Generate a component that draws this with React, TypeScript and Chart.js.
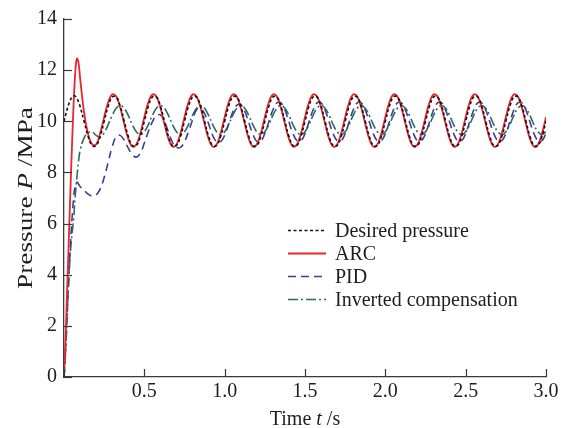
import React, { useEffect, useRef } from 'react';
import { Chart, registerables } from 'chart.js';

Chart.register(...registerables);

// Time axis (s)
const TIME = [
  0, 0.01, 0.02, 0.03, 0.04, 0.05, 0.06, 0.07, 0.08, 0.09, 0.1,
  0.125, 0.15, 0.175, 0.2, 0.225,
  0.25, 0.275, 0.3, 0.325, 0.35, 0.375, 0.4, 0.425, 0.45, 0.475,
  0.5, 0.525, 0.55, 0.575, 0.6, 0.625, 0.65, 0.675, 0.7, 0.725,
  0.75, 0.775, 0.8, 0.825, 0.85, 0.875, 0.9, 0.925, 0.95, 0.975,
  1.0, 1.025, 1.05, 1.075, 1.1, 1.125, 1.15, 1.175, 1.2, 1.225,
  1.25, 1.275, 1.3, 1.325, 1.35, 1.375, 1.4, 1.425, 1.45, 1.475,
  1.5, 1.525, 1.55, 1.575, 1.6, 1.625, 1.65, 1.675, 1.7, 1.725,
  1.75, 1.775, 1.8, 1.825, 1.85, 1.875, 1.9, 1.925, 1.95, 1.975,
  2.0, 2.025, 2.05, 2.075, 2.1, 2.125, 2.15, 2.175, 2.2, 2.225,
  2.25, 2.275, 2.3, 2.325, 2.35, 2.375, 2.4, 2.425, 2.45, 2.475,
  2.5, 2.525, 2.55, 2.575, 2.6, 2.625, 2.65, 2.675, 2.7, 2.725,
  2.75, 2.775, 2.8, 2.825, 2.85, 2.875, 2.9, 2.925, 2.95, 2.975,
  3.0,
];

// Desired pressure (MPa)
const DESIRED = [
  10, 10.25, 10.48, 10.68, 10.84, 10.95, 11.0, 10.98, 10.9, 10.77, 10.59,
  10, 9.41, 9.05, 9.05, 9.41,
  10, 10.59, 10.95, 10.95, 10.59, 10, 9.41, 9.05, 9.05, 9.41,
  10, 10.59, 10.95, 10.95, 10.59, 10, 9.41, 9.05, 9.05, 9.41,
  10, 10.59, 10.95, 10.95, 10.59, 10, 9.41, 9.05, 9.05, 9.41,
  10, 10.59, 10.95, 10.95, 10.59, 10, 9.41, 9.05, 9.05, 9.41,
  10, 10.59, 10.95, 10.95, 10.59, 10, 9.41, 9.05, 9.05, 9.41,
  10, 10.59, 10.95, 10.95, 10.59, 10, 9.41, 9.05, 9.05, 9.41,
  10, 10.59, 10.95, 10.95, 10.59, 10, 9.41, 9.05, 9.05, 9.41,
  10, 10.59, 10.95, 10.95, 10.59, 10, 9.41, 9.05, 9.05, 9.41,
  10, 10.59, 10.95, 10.95, 10.59, 10, 9.41, 9.05, 9.05, 9.41,
  10, 10.59, 10.95, 10.95, 10.59, 10, 9.41, 9.05, 9.05, 9.41,
  10, 10.59, 10.95, 10.95, 10.59, 10, 9.41, 9.05, 9.05, 9.41,
  10,
];

// ARC
const ARC = [
  0, 1.6, 3.5, 5.4, 7.3, 9.1, 10.7, 11.9, 12.45, 12.3, 11.7,
  10.35, 9.5, 9.1, 9.09, 9.53,
  10.16, 10.74, 11.05, 10.97, 10.53, 9.9, 9.32, 9.01, 9.09, 9.53,
  10.16, 10.74, 11.05, 10.97, 10.53, 9.9, 9.32, 9.01, 9.09, 9.53,
  10.16, 10.74, 11.05, 10.97, 10.53, 9.9, 9.32, 9.01, 9.09, 9.53,
  10.16, 10.74, 11.05, 10.97, 10.53, 9.9, 9.32, 9.01, 9.09, 9.53,
  10.16, 10.74, 11.05, 10.97, 10.53, 9.9, 9.32, 9.01, 9.09, 9.53,
  10.16, 10.74, 11.05, 10.97, 10.53, 9.9, 9.32, 9.01, 9.09, 9.53,
  10.16, 10.74, 11.05, 10.97, 10.53, 9.9, 9.32, 9.01, 9.09, 9.53,
  10.16, 10.74, 11.05, 10.97, 10.53, 9.9, 9.32, 9.01, 9.09, 9.53,
  10.16, 10.74, 11.05, 10.97, 10.53, 9.9, 9.32, 9.01, 9.09, 9.53,
  10.16, 10.74, 11.05, 10.97, 10.53, 9.9, 9.32, 9.01, 9.09, 9.53,
  10.16, 10.74, 11.05, 10.97, 10.53, 9.9, 9.32, 9.01, 9.09, 9.53,
  10.16,
];

// PID
const PID = [
  0, 1.1, 2.5, 4.0, 5.2, 6.2, 7.0, 7.5, 7.62, 7.55, 7.45,
  7.3, 7.15, 7.08, 7.12, 7.35,
  7.8, 8.4, 9.0, 9.4, 9.45, 9.25, 8.95, 8.7, 8.6, 8.75,
  9.15, 9.6, 9.98, 10.22, 10.25, 10.0, 9.58, 9.18, 8.98, 8.98,
  9.2, 9.6, 10.05, 10.45, 10.5, 10.3, 9.9, 9.45, 9.2, 9.2,
  9.45, 9.9, 10.35, 10.62, 10.65, 10.4, 9.95, 9.5, 9.22, 9.22,
  9.52, 9.98, 10.44, 10.72, 10.72, 10.44, 9.98, 9.52, 9.24, 9.24,
  9.52, 9.98, 10.44, 10.72, 10.72, 10.44, 9.98, 9.52, 9.24, 9.24,
  9.52, 9.98, 10.44, 10.72, 10.72, 10.44, 9.98, 9.52, 9.24, 9.24,
  9.52, 9.98, 10.44, 10.72, 10.72, 10.44, 9.98, 9.52, 9.24, 9.24,
  9.52, 9.98, 10.44, 10.72, 10.72, 10.44, 9.98, 9.52, 9.24, 9.24,
  9.52, 9.98, 10.44, 10.72, 10.72, 10.44, 9.98, 9.52, 9.24, 9.24,
  9.52, 9.98, 10.44, 10.72, 10.72, 10.44, 9.98, 9.52, 9.24, 9.24,
  9.52,
];

// Inverted compensation
const INVERTED = [
  0, 1.0, 2.5, 3.8, 4.9, 5.6, 6.2, 7.1, 7.8, 8.4, 8.85,
  9.35, 9.55, 9.58, 9.45, 9.37,
  9.55, 9.87, 10.23, 10.51, 10.62, 10.51, 10.23, 9.87, 9.59, 9.48,
  9.59, 9.87, 10.23, 10.51, 10.62, 10.51, 10.23, 9.87, 9.59, 9.48,
  9.59, 9.87, 10.23, 10.51, 10.62, 10.51, 10.23, 9.87, 9.59, 9.48,
  9.59, 9.87, 10.23, 10.51, 10.62, 10.51, 10.23, 9.87, 9.59, 9.48,
  9.59, 9.87, 10.23, 10.51, 10.62, 10.51, 10.23, 9.87, 9.59, 9.48,
  9.59, 9.87, 10.23, 10.51, 10.62, 10.51, 10.23, 9.87, 9.59, 9.48,
  9.59, 9.87, 10.23, 10.51, 10.62, 10.51, 10.23, 9.87, 9.59, 9.48,
  9.59, 9.87, 10.23, 10.51, 10.62, 10.51, 10.23, 9.87, 9.59, 9.48,
  9.59, 9.87, 10.23, 10.51, 10.62, 10.51, 10.23, 9.87, 9.59, 9.48,
  9.59, 9.87, 10.23, 10.51, 10.62, 10.51, 10.23, 9.87, 9.59, 9.48,
  9.59, 9.87, 10.23, 10.51, 10.62, 10.51, 10.23, 9.87, 9.59, 9.48,
  9.59,
];

const SERIES_LABELS = ['Desired pressure', 'ARC', 'PID', 'Inverted compensation'];
const X_TITLE: [string, boolean][] = [['Time ', false], ['t', true], [' /s', false]];
const Y_TITLE: [string, boolean][] = [['Pressure ', false], ['P', true], [' /MPa', false]];

const FONT = '"Liberation Serif", "Times New Roman", serif';
const TEXT_COLOR = '#1e1e1e';
const AXIS_COLOR = '#3a3a3a';

function drawSegments(ctx: CanvasRenderingContext2D, segs: [string, boolean][], cx: number, y: number, size = 20) {
  const fontN = `${size}px ${FONT}`;
  const fontI = `italic ${size}px ${FONT}`;
  let total = 0;
  const widths = segs.map(([s, it]) => {
    ctx.font = it ? fontI : fontN;
    const w = ctx.measureText(s).width;
    total += w;
    return w;
  });
  let x = cx - total / 2;
  ctx.textAlign = 'left';
  ctx.textBaseline = 'alphabetic';
  segs.forEach(([s, it], i) => {
    ctx.font = it ? fontI : fontN;
    ctx.fillText(s, x, y);
    x += widths[i];
  });
}

const decorPlugin = {
  id: 'decor',
  afterDraw(chart: any) {
    const ctx: CanvasRenderingContext2D = chart.ctx;
    const { left, right, top, bottom } = chart.chartArea;
    const xs = chart.scales.x;
    const ys = chart.scales.y;
    ctx.save();
    // inward ticks
    ctx.strokeStyle = AXIS_COLOR;
    ctx.lineWidth = 1.2;
    ctx.setLineDash([]);
    xs.ticks.forEach((t: any) => {
      const px = Math.round(xs.getPixelForValue(t.value)) + 0.5;
      ctx.beginPath();
      ctx.moveTo(px, bottom);
      ctx.lineTo(px, bottom - 8);
      ctx.stroke();
    });
    ys.ticks.forEach((t: any) => {
      const py = Math.round(ys.getPixelForValue(t.value)) + 0.5;
      ctx.beginPath();
      ctx.moveTo(left, py);
      ctx.lineTo(left + 8, py);
      ctx.stroke();
    });
    // axis titles
    ctx.fillStyle = TEXT_COLOR;
    drawSegments(ctx, X_TITLE, (left + right) / 2, 425);
    ctx.save();
    ctx.translate(32, (top + bottom) / 2);
    ctx.rotate(-Math.PI / 2);
    ctx.scale(1.3, 1);
    drawSegments(ctx, Y_TITLE, 0, 0, 21);
    ctx.restore();
    // legend
    chart.data.datasets.forEach((ds: any, i: number) => {
      const base = 237 + 23 * i;
      const ly = base - 6.5;
      ctx.strokeStyle = ds.borderColor;
      ctx.lineWidth = ds.borderWidth;
      ctx.setLineDash(ds.borderDash || []);
      ctx.beginPath();
      ctx.moveTo(288, ly);
      ctx.lineTo(326, ly);
      ctx.stroke();
      ctx.setLineDash([]);
      ctx.fillStyle = TEXT_COLOR;
      ctx.font = `20px ${FONT}`;
      ctx.textAlign = 'left';
      ctx.textBaseline = 'alphabetic';
      ctx.fillText(ds.label, 335, base);
    });
    ctx.restore();
  },
};

export default function App() {
  const canvasRef = useRef<HTMLCanvasElement | null>(null);

  useEffect(() => {
    const canvas = canvasRef.current;
    if (!canvas) return;
    const mk = (vals: number[]) => TIME.map((t, i) => ({ x: t, y: vals[i] }));
    const chart = new Chart(canvas, {
      type: 'line',
      data: {
        datasets: [
          { label: SERIES_LABELS[0], data: mk(DESIRED), borderColor: '#111111', borderWidth: 1.6, borderDash: [3, 2.5] },
          { label: SERIES_LABELS[1], data: mk(ARC), borderColor: '#e8262b', borderWidth: 1.8, borderDash: [] },
          { label: SERIES_LABELS[2], data: mk(PID), borderColor: '#3b3f98', borderWidth: 1.6, borderDash: [8, 5] },
          { label: SERIES_LABELS[3], data: mk(INVERTED), borderColor: '#2f6c5d', borderWidth: 1.6, borderDash: [10, 3, 2, 3] },
        ],
      },
      options: {
        responsive: false,
        animation: false,
        parsing: true,
        layout: { padding: { left: 0, top: 12, right: 22, bottom: 0 } },
        elements: { point: { radius: 0 }, line: { tension: 0.4, fill: false } },
        plugins: { legend: { display: false }, tooltip: { enabled: false }, title: { display: false } },
        scales: {
          x: {
            type: 'linear',
            min: 0,
            max: 3,
            afterFit: (s: any) => { s.height = 51; },
            border: { display: true, color: AXIS_COLOR, width: 1.3 },
            grid: { drawOnChartArea: false, drawTicks: false },
            ticks: {
              stepSize: 0.5,
              padding: 3,
              color: TEXT_COLOR,
              font: { family: FONT, size: 20 },
              maxRotation: 0,
              callback: (v: any) => (Number(v) === 0 ? '' : Number(v).toFixed(1)),
            },
          },
          y: {
            type: 'linear',
            min: 0,
            max: 14,
            afterFit: (s: any) => { s.width = 64; },
            border: { display: true, color: AXIS_COLOR, width: 1.3 },
            grid: { drawOnChartArea: false, drawTicks: false },
            ticks: {
              stepSize: 2,
              padding: 7,
              color: TEXT_COLOR,
              font: { family: FONT, size: 20 },
            },
          },
        },
      },
      plugins: [decorPlugin],
    });
    return () => chart.destroy();
  }, []);

  return (
    <div style={{ position: 'absolute', left: 0, top: 0, width: 568, height: 428, background: '#fff' }}>
      <canvas ref={canvasRef} width={568} height={428} />
    </div>
  );
}
